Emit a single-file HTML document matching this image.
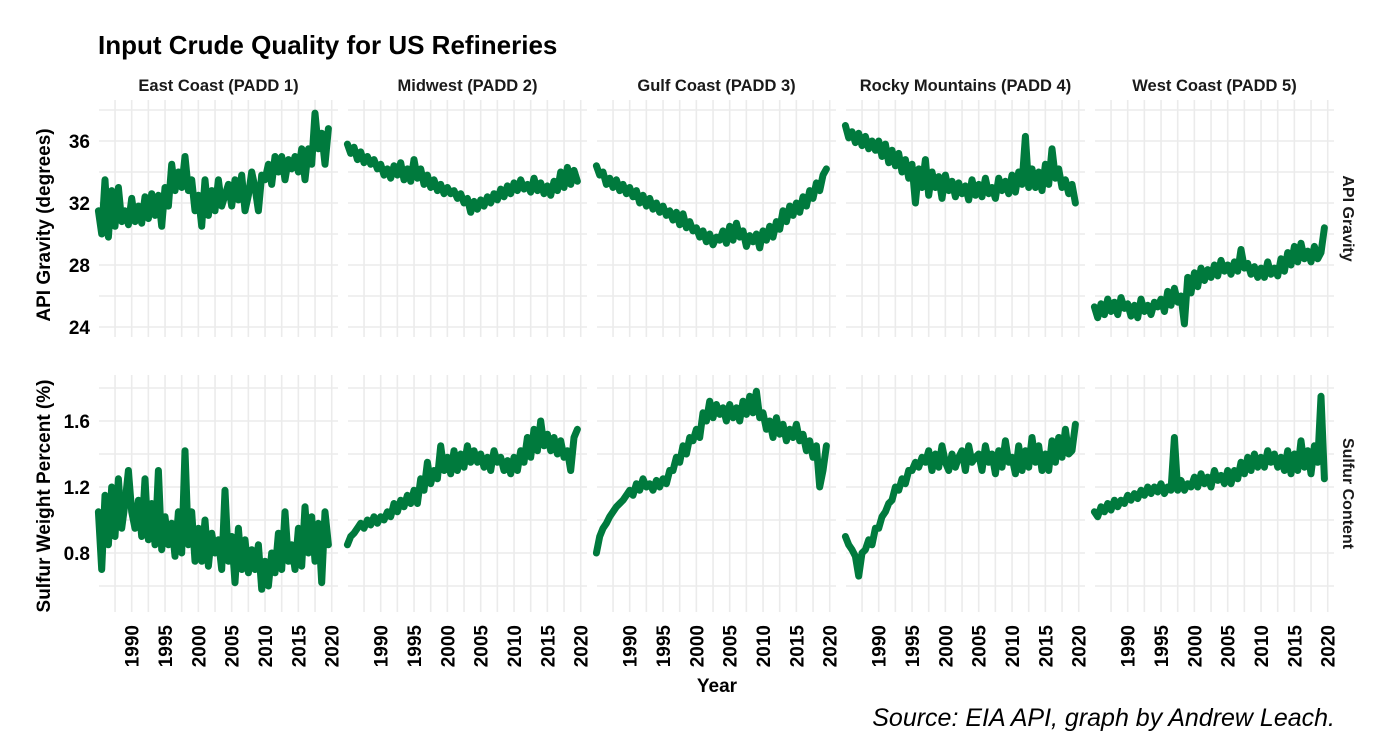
<!DOCTYPE html>
<html><head><meta charset="utf-8"><style>
body{margin:0;background:#fff;}
svg{display:block;font-family:"Liberation Sans",Arial,sans-serif;}
</style></head><body>
<svg id="chart" width="1400" height="750" viewBox="0 0 1400 750">
<text x="98" y="54" font-size="26" font-weight="bold" fill="#000">Input Crude Quality for US Refineries</text>
<text transform="translate(50,225) rotate(-90)" text-anchor="middle" font-size="19" font-weight="bold">API Gravity (degrees)</text>
<text transform="translate(50,496) rotate(-90)" text-anchor="middle" font-size="19" font-weight="bold">Sulfur Weight Percent (%)</text>
<text x="717" y="692" text-anchor="middle" font-size="19" font-weight="bold">Year</text>
<text x="1335" y="726" text-anchor="end" font-size="25" font-style="italic">Source: EIA API, graph by Andrew Leach.</text>
<g id="plots"></g>
</svg>
<script>
const regions = ["East Coast (PADD 1)","Midwest (PADD 2)","Gulf Coast (PADD 3)","Rocky Mountains (PADD 4)","West Coast (PADD 5)"];
const startYear = 1985;
const stepYear = 0.5;
const xTicks = [1990,1995,2000,2005,2010,2015,2020];
const apiTicks = [24,28,32,36];
const sulfurTicks = [0.8,1.2,1.6];
const apiEast = [31.5,30,33.5,29.8,32.8,30.5,33,30.8,31.5,30.6, 32.3,30.8,31.8,30.7,32.4,31,32.6,31.2,32.5,30.5, 33,31.8,34.5,32.8,34,33,35,32.8,33.5,31.5, 32.5,30.5,33.5,31.2,32.8,31.5,33.5,31.8,32.5,33.2, 31.8,33.5,32.2,33.8,31.5,32.5,34,33,31.5,33.8, 33.5,34.5,33.2,35,34,35,33.5,34.8,34.2,35, 34,35.5,33.5,35.5,34.5,37.8,35.5,36.5,34.5,36.8];
const apiMidwest = [35.8,35.2,35.6,34.8,35.3,34.6,35,34.5,34.8,34.2, 34.5,33.8,34.2,33.6,34.4,33.8,34.6,33.5,34.2,33.4, 34.8,33.6,34.2,33.2,33.8,33,33.5,32.8,33.2,32.6, 33,32.6,32.8,32.3,32.6,32,32.3,31.4,32.1,31.6, 32.2,31.8,32.4,32,32.6,32.2,32.9,32.4,33.1,32.6, 33.3,32.8,33.5,32.9,33.2,32.7,33.6,32.8,33.3,32.6, 33.1,32.5,33.4,32.8,34,33,34.3,33.2,34.1,33.4];
const apiGulf = [34.4,33.8,34,33.2,33.6,33,33.5,32.8,33.2,32.6, 33,32.4,32.8,32,32.5,31.8,32.3,31.6,32,31.4, 31.8,31.2,31.5,30.9,31.4,30.6,31.3,30.4,30.8,30.2, 30.4,29.8,30.2,29.5,30,29.3,29.8,29.6,30.2,29.4, 30.5,29.6,30.7,29.8,30.2,29.2,29.9,29.5,30,29.1, 30.2,29.6,30.5,29.8,30.8,30.3,31.5,30.8,31.8,31.2, 32,31.4,32.4,31.8,32.8,32.3,33.3,32.8,33.8,34.2];
const apiRocky = [37,36.2,36.6,35.9,36.5,35.7,36.3,35.5,36,35.4, 36,35,35.8,34.6,35.4,34.4,35.2,34,34.8,33.6, 34.5,32,34.2,33,34.8,32.5,34,33,33.7,32.3, 33.8,32.8,33.4,32.4,33.3,32.6,33.1,32.2,33.5,32.5, 33.2,32.4,33.6,32.6,33,32.3,33.6,32.8,33.4,32.6, 33.8,32.7,34,33.2,36.3,33,34.2,33,34,32.8, 34.5,33.2,35.5,33.6,34.2,33,33.5,32.6,33.2,32];
const apiWest = [25.3,24.6,25.5,24.8,25.8,25,25.6,24.8,25.9,25.2, 25.5,24.7,25.4,24.6,25.8,25,25.4,24.8,25.6,25.3, 25.8,25,26.3,25.4,26.5,25.6,26,24.2,27.2,26.2, 27.5,26.6,27.8,27,27.7,27.2,28,27.3,28.3,27.6, 28,27.4,28.2,27.6,29,27.8,28.1,27.4,27.9,27.2, 27.8,27.2,28.2,27.4,27.8,27.3,28.4,27.6,28.8,28, 29.2,28.2,29.4,28.4,28.9,28.2,29.2,28.4,28.8,30.4];
const sulEast = [1.05,0.7,1.15,0.85,1.2,0.9,1.25,0.95,1.1,1.3, 1.05,0.95,1.12,0.9,1.25,0.88,1.1,0.85,1.3,0.82, 1.02,0.85,0.98,0.78,1.05,0.8,1.42,0.85,1.05,0.75, 0.95,0.75,1.0,0.72,0.92,0.8,0.88,0.7,1.18,0.75, 0.9,0.62,0.95,0.7,0.88,0.68,0.82,0.7,0.85,0.58, 0.75,0.6,0.8,0.68,0.92,0.7,1.05,0.75,0.85,0.7, 0.95,0.72,1.08,0.8,1.02,0.75,0.98,0.62,1.05,0.85];
const sulMidwest = [0.85,0.9,0.92,0.95,0.98,0.95,1.0,0.97,1.02,0.98, 1.02,1.0,1.05,1.02,1.1,1.05,1.12,1.08,1.15,1.1, 1.18,1.1,1.25,1.18,1.35,1.22,1.3,1.25,1.45,1.3, 1.38,1.28,1.42,1.3,1.4,1.32,1.45,1.35,1.42,1.35, 1.4,1.32,1.38,1.3,1.42,1.35,1.38,1.3,1.36,1.28, 1.38,1.3,1.42,1.35,1.5,1.38,1.55,1.42,1.6,1.45, 1.52,1.42,1.5,1.4,1.48,1.38,1.42,1.3,1.5,1.55];
const sulGulf = [0.8,0.9,0.95,0.98,1.02,1.05,1.08,1.1,1.12,1.15, 1.18,1.15,1.22,1.18,1.25,1.2,1.22,1.18,1.24,1.2, 1.25,1.22,1.3,1.3,1.38,1.35,1.45,1.4,1.5,1.48, 1.55,1.5,1.65,1.6,1.72,1.62,1.7,1.64,1.68,1.6, 1.7,1.62,1.68,1.6,1.72,1.64,1.75,1.65,1.78,1.62, 1.65,1.55,1.6,1.5,1.62,1.52,1.58,1.48,1.55,1.5, 1.58,1.48,1.52,1.42,1.48,1.38,1.45,1.2,1.3,1.45];
const sulRocky = [0.9,0.85,0.82,0.78,0.66,0.8,0.82,0.88,0.85,0.95, 0.95,1.02,1.05,1.1,1.12,1.2,1.18,1.25,1.22,1.3, 1.3,1.35,1.32,1.38,1.35,1.42,1.3,1.4,1.32,1.45, 1.35,1.3,1.4,1.32,1.38,1.42,1.3,1.45,1.35,1.38, 1.4,1.3,1.45,1.35,1.4,1.28,1.42,1.32,1.48,1.35, 1.38,1.28,1.45,1.3,1.42,1.32,1.5,1.35,1.45,1.3, 1.4,1.3,1.48,1.35,1.5,1.38,1.55,1.4,1.42,1.58];
const sulWest = [1.05,1.02,1.08,1.05,1.1,1.06,1.12,1.08,1.12,1.1, 1.15,1.12,1.16,1.13,1.18,1.15,1.2,1.16,1.2,1.17, 1.22,1.16,1.2,1.18,1.5,1.18,1.24,1.18,1.22,1.2, 1.26,1.2,1.28,1.22,1.26,1.2,1.3,1.24,1.27,1.22, 1.3,1.22,1.3,1.25,1.35,1.28,1.38,1.3,1.4,1.32, 1.38,1.32,1.42,1.35,1.4,1.32,1.38,1.3,1.42,1.28, 1.4,1.3,1.48,1.32,1.42,1.28,1.45,1.35,1.75,1.25];
const apiSeries = [apiEast, apiMidwest, apiGulf, apiRocky, apiWest];
const sulSeries = [sulEast, sulMidwest, sulGulf, sulRocky, sulWest];

const NS = "http://www.w3.org/2000/svg";
const g = document.getElementById('plots');
function mk(tag, attrs, parent){ const e=document.createElementNS(NS,tag); for(const k in attrs) e.setAttribute(k,attrs[k]); (parent||g).appendChild(e); return e; }
const panelW = 239, pitch = 249, firstLeft = 99;
const rows = [
  {top:100,bottom:337,v0:36,y0:141,k:15.5,ticks:apiTicks,minor:2,series:apiSeries,name:'api',strip:'API Gravity',fmt:v=>String(v)},
  {top:375,bottom:612,v0:1.6,y0:421,k:165,ticks:sulfurTicks,minor:0.2,series:sulSeries,name:'sulfur',strip:'Sulfur Content',fmt:v=>v.toFixed(1)}
];
function xScale(p, yr){ return firstLeft + p*pitch + 32.7 + (yr-1990)*6.667; }
rows.forEach((r, ri) => {
  const yScale = v => r.y0 - (v - r.v0)*r.k;
  for(let p=0;p<5;p++){
    const L = firstLeft + p*pitch;
    const pg = mk('g',{});
    
    
    for(let v=r.ticks[0]-r.minor; v<=r.ticks[r.ticks.length-1]+r.minor*1.01; v+=r.minor){
      const y=yScale(v); if(y<r.top-1||y>r.bottom+1) continue;
      mk('line',{x1:L,x2:L+panelW,y1:y,y2:y,stroke:'#ebebeb','stroke-width':1.6},pg);
    }
    for(let yr=1985; yr<=2020.01; yr+=2.5){
      const x=xScale(p,yr); if(x<L||x>L+panelW) continue;
      mk('line',{x1:x,x2:x,y1:r.top,y2:r.bottom,stroke:'#ebebeb','stroke-width':1.6},pg);
    }
    const vals = r.series[p];
    const pts = vals.map((v,i)=> xScale(p,startYear+i*stepYear).toFixed(1)+','+yScale(v).toFixed(1)).join(' ');
    const line = mk('polyline',{points:pts,fill:'none',stroke:'#007a3d','stroke-width':7,'stroke-linejoin':'round','stroke-linecap':'round'},pg);
    
    
    if(ri===0){
      const st = mk('text',{x:L+panelW/2,y:91,'text-anchor':'middle','font-size':16.5,'font-weight':'bold',fill:'#1a1a1a'});
      st.textContent = regions[p];
      
      
    }
    if(ri===1){
      xTicks.forEach(t=>{
        const x=xScale(p,t)+7;
        const tx = mk('text',{transform:`translate(${x},625) rotate(-90)`,'text-anchor':'end','font-size':19,'font-weight':'bold',fill:'#000'});
        tx.textContent = t;
        
        
      });
    }
    if(p===0){
      r.ticks.forEach(t=>{
        const ty = mk('text',{x:90,y:yScale(t)+7,'text-anchor':'end','font-size':19,'font-weight':'bold',fill:'#000'});
        ty.textContent = r.fmt(t);
        
        
      });
    }
  }
  const rs = mk('text',{transform:`translate(1343,${(r.top+r.bottom)/2}) rotate(90)`,'text-anchor':'middle','font-size':16,'font-weight':'bold',fill:'#1a1a1a'});
  rs.textContent = r.strip;
  
  
});
</script>
</body></html>
